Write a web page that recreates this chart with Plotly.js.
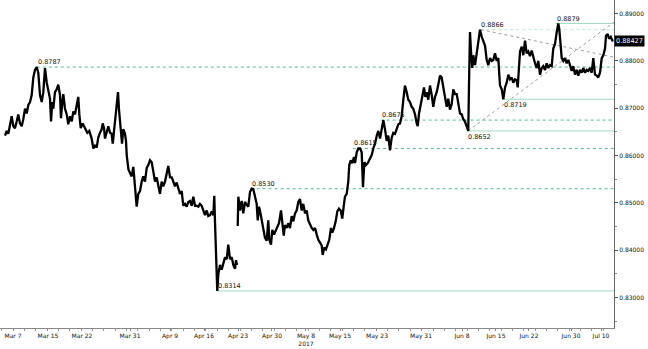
<!DOCTYPE html>
<html>
<head>
<meta charset="utf-8">
<script src="https://cdn.plot.ly/plotly-3.0.1.min.js"></script>
<style>html,body{margin:0;padding:0;background:#fff;}#chart{width:648px;height:349px;}</style>
</head>
<body>
<div id="chart"></div>
<script>
// x unit: trading days since Mar 7, 2017
const days = [
-1.21,-0.95,-0.71,-0.45,-0.20,0.05,0.30,0.56,0.80,1.06,
1.32,1.56,1.82,2.08,2.32,2.58,2.83,3.08,3.33,3.59,
3.83,4.09,4.35,4.59,4.85,5.11,5.35,5.61,5.76,5.95,
6.11,6.36,6.62,6.86,7.12,7.27,7.47,7.62,7.88,8.14,
8.38,8.64,8.89,9.14,9.39,9.65,9.89,10.05,10.26,10.56,
10.91,11.26,11.56,11.92,12.17,12.42,12.68,12.92,13.18,13.44,
13.59,13.79,13.94,14.20,14.44,14.70,14.95,15.11,15.30,15.50,
15.71,15.91,16.06,16.21,16.36,16.52,16.71,16.97,17.12,17.23,
17.50,17.98,18.23,18.48,18.74,18.98,19.24,19.50,19.74,20.00,
20.26,20.50,20.76,21.02,21.26,21.52,21.77,22.02,22.27,22.53,
22.77,23.03,23.29,23.53,23.79,24.05,24.29,24.55,24.80,25.05,
25.30,25.56,25.80,26.06,26.32,26.56,26.82,27.08,27.32,27.58,
27.83,28.08,28.33,28.59,28.83,29.09,29.35,29.59,29.85,30.11,
30.35,30.50,30.61,30.71,30.86,30.95,31.11,31.36,31.62,31.86,
32.12,32.38,32.62,32.88,33.14,33.38,33.64,33.79,33.94,34.00,
34.05,34.14,34.39,34.65,34.89,35.15,35.41,35.65,35.91,36.17,
36.41,36.67,36.92,37.08,37.27,37.42,37.68,37.92,38.18,38.44,
38.68,38.83,39.09,39.29,39.55,39.80,40.05,40.30,40.61,40.80,
41.02,41.21,41.47,41.71,41.97,42.23,42.47,42.73,42.98,43.23,
43.48,43.74,43.98,44.24,44.50,44.74,45.00,45.26,45.50,45.76,
46.02,46.26,46.52,46.77,46.92,47.17,47.42,47.68,47.92,48.18,
48.38,48.64,48.89,49.14,49.39,49.65,49.89,50.15,50.30,50.56,
50.80,50.95,51.17,51.41,51.67,51.82,52.08,52.32,52.58,52.83,
53.03,53.23,53.48,53.74,53.98,54.35,54.59,54.85,55.11,55.35,
55.61,55.86,56.11,56.36,56.62,56.86,57.12,57.38,57.62,57.88,
58.14,58.38,58.64,58.89,59.14,59.39,59.65,59.89,60.15,60.41,
60.65,60.91,61.17,61.32,61.52,61.77,62.02,62.27,62.47,62.68,
62.92,63.18,63.44,63.68,63.94,64.20,64.44,64.70,64.95,65.20,
65.45,65.71,65.95,66.21,66.47,66.71,66.97,67.23,67.47,67.73,
67.98,68.23,68.48,68.74,68.98,69.09,69.17,69.24,69.39,69.59,
69.74,70.00,70.26,70.50,70.76,71.02,71.26,71.52,71.77,72.02,
72.27,72.53,72.77,73.03,73.29,73.53,73.68,73.79,74.05,74.29,
74.55,74.80,75.05,75.30,75.56,75.80,76.06,76.32,76.47,76.67,
76.82,77.08,77.32,77.58,77.83,78.08,78.33,78.59,78.83,79.09,
79.35,79.59,79.85,80.11,80.35,80.61,80.86,81.11,81.36,81.62,
81.86,82.12,82.38,82.62,82.77,82.98,83.14,83.38,83.64,83.89,
84.14,84.39,84.65,84.89,85.15,85.41,85.65,85.91,86.17,86.41,
86.67,86.92,87.17,87.42,87.68,87.92,88.18,88.44,88.68,88.94,
89.20,89.44,89.70,89.85,90.11,90.30,90.56,90.80,90.98
];
const prices = [
0.8642,0.8652,0.8646,0.8668,0.8683,0.8662,0.8658,0.8672,0.8687,0.8668,
0.8662,0.8677,0.8699,0.8689,0.8707,0.8713,0.8728,0.8765,0.8781,0.8787,
0.8775,0.8728,0.8713,0.8734,0.8785,0.8754,0.8734,0.8720,0.8672,0.8713,
0.8699,0.8734,0.8740,0.8750,0.8728,0.8679,0.8713,0.8730,0.8699,0.8687,
0.8666,0.8683,0.8672,0.8693,0.8687,0.8703,0.8724,0.8687,0.8658,0.8668,
0.8656,0.8648,0.8652,0.8636,0.8615,0.8621,0.8617,0.8638,0.8648,0.8656,
0.8668,0.8658,0.8636,0.8652,0.8662,0.8648,0.8646,0.8625,0.8652,0.8679,
0.8718,0.8734,0.8697,0.8672,0.8658,0.8625,0.8656,0.8646,0.8631,0.8601,
0.8570,0.8556,0.8576,0.8525,0.8492,0.8519,0.8525,0.8545,0.8556,0.8545,
0.8574,0.8580,0.8590,0.8586,0.8566,0.8545,0.8554,0.8539,0.8519,0.8545,
0.8535,0.8545,0.8564,0.8578,0.8554,0.8554,0.8545,0.8535,0.8543,0.8533,
0.8519,0.8525,0.8494,0.8498,0.8492,0.8502,0.8504,0.8494,0.8513,0.8494,
0.8494,0.8492,0.8498,0.8494,0.8482,0.8474,0.8484,0.8472,0.8474,0.8482,
0.8474,0.8515,0.8457,0.8416,0.8381,0.8314,0.8349,0.8369,0.8359,0.8375,
0.8385,0.8381,0.8412,0.8381,0.8385,0.8369,0.8361,0.8379,0.8369,null,
0.8451,0.8513,0.8484,0.8504,0.8478,0.8502,0.8496,0.8492,0.8523,0.8530,
0.8529,0.8513,0.8498,0.8463,0.8492,0.8484,0.8463,0.8441,0.8426,0.8420,
0.8463,0.8422,0.8412,0.8443,0.8433,0.8441,0.8451,0.8457,0.8484,0.8453,
0.8431,0.8453,0.8447,0.8457,0.8447,0.8472,0.8461,0.8478,0.8484,0.8502,
0.8508,0.8484,0.8498,0.8478,0.8484,0.8463,0.8453,0.8447,0.8443,0.8447,
0.8433,0.8422,0.8416,0.8410,0.8390,0.8406,0.8402,0.8412,0.8422,0.8447,
0.8437,0.8447,0.8461,0.8482,0.8488,0.8484,0.8467,0.8498,0.8513,0.8519,
0.8545,0.8580,0.8590,0.8584,0.8597,0.8584,0.8607,0.8615,0.8615,0.8607,
0.8533,0.8586,0.8580,0.8584,0.8591,0.8601,0.8615,0.8625,0.8642,0.8652,
0.8636,0.8656,0.8675,0.8656,0.8631,0.8642,0.8611,0.8638,0.8648,0.8646,
0.8656,0.8666,0.8668,0.8683,0.8718,0.8748,0.8734,0.8718,0.8713,0.8703,
0.8699,0.8687,0.8668,0.8662,0.8689,0.8709,0.8724,0.8744,0.8724,0.8734,
0.8718,0.8748,0.8728,0.8703,0.8724,0.8734,0.8750,0.8769,0.8765,0.8748,
0.8724,0.8703,0.8720,0.8697,0.8709,0.8740,0.8730,0.8730,0.8707,0.8689,
0.8687,0.8677,0.8672,0.8662,0.8652,0.8750,0.8806,0.8861,0.8820,0.8785,
0.8812,0.8791,0.8816,0.8836,0.8866,0.8851,0.8843,0.8832,0.8802,0.8791,
0.8806,0.8800,0.8802,0.8816,0.8800,0.8806,0.8771,0.8748,0.8740,0.8719,
0.8744,0.8754,0.8771,0.8761,0.8765,0.8754,0.8761,0.8759,0.8744,0.8779,
0.8820,0.8830,0.8812,0.8843,0.8816,0.8820,0.8810,0.8822,0.8806,0.8795,
0.8785,0.8800,0.8771,0.8785,0.8789,0.8781,0.8795,0.8785,0.8791,0.8789,
0.8826,0.8836,0.8861,0.8879,0.8867,0.8832,0.8806,0.8800,0.8806,0.8795,
0.8802,0.8791,0.8779,0.8789,0.8771,0.8781,0.8769,0.8781,0.8775,0.8785,
0.8775,0.8781,0.8779,0.8785,0.8775,0.8806,0.8771,0.8769,0.8765,0.8775,
0.8806,0.8812,0.8826,0.8853,0.8857,0.8847,0.8851,0.8843,0.88427
];
const tickDays = [0,5.3,10.45,17.73,23.79,28.94,34.09,39.24,44.39,49.55,55.15,61.82,68.03,73.18,78.18,84.55,89.09];
const tickLabels = ['Mar 7','Mar 15','Mar 22','Mar 31','Apr 9','Apr 16','Apr 23','Apr 30','May 8<br>2017','May 15','May 23','May 31','Jun 8','Jun 15','Jun 22','Jun 30','Jul 10'];

// marked levels
const levelValues = [0.8866, 0.8879, 0.8787, 0.8719, 0.8675, 0.8652, 0.8615, 0.8530, 0.8314];
const levelLabels = ['0.8866','0.8879','0.8787','0.8719','0.8675','0.8652','0.8615','0.8530','0.8314'];
const levelStartDays = [70.8, 82.2, 3.6, 74.2, 55.7, 68.8, 51.5, 36.0, 30.9];
const levelKinds = ['pale','solid','dash','solid','dash','solid','dash','dash','solid'];
const labelBelow = [false,false,false,true,false,true,false,false,false];

// trend lines
const trendStartDays = [70.9, 68.95];
const trendStartValues = [0.8866, 0.8652];
const trendEndValues = [0.8808, 0.8882];

const lastPrice = 0.88427;

const xMin = -1.97, xMax = 91.06;
const yMin = 0.82357, yMax = 0.89287;

const styleOf = {
  pale:  {color:'#bfe8d6', width:1, dash:'3px,3px'},
  solid: {color:'#a3dcc5', width:1, dash:'solid'},
  dash:  {color:'#4fbf95', width:1, dash:'3px,3px'}
};

const shapes = [];
const annotations = [];
levelValues.forEach((v,i)=>{
  shapes.push({type:'line', xref:'x', yref:'y', x0:levelStartDays[i], x1:xMax, y0:v, y1:v,
    line:styleOf[levelKinds[i]], layer:'below'});
  annotations.push({x:levelStartDays[i], y:v, xref:'x', yref:'y', text:levelLabels[i], showarrow:false,
    xanchor:'left', yanchor: labelBelow[i] ? 'top' : 'bottom', borderpad:0,
    yshift: labelBelow[i] ? -1 : 0,
    font:{family:'DejaVu Sans', size:6.5, color:'#111'}});
});
trendStartDays.forEach((d,i)=>{
  shapes.push({type:'line', xref:'x', yref:'y', x0:d, x1:xMax, y0:trendStartValues[i], y1:trendEndValues[i],
    line:{color:'#a0a0a0', width:1, dash:'3px,3px'}, layer:'below'});
});
annotations.push({x:1, xref:'paper', y:lastPrice, yref:'y', text:lastPrice.toFixed(5), showarrow:false,
  xanchor:'left', yanchor:'middle', bgcolor:'#000', borderpad:1,
  font:{family:'DejaVu Sans', size:6.5, color:'#fff'}});

const trace = {x:days, y:prices, type:'scatter', mode:'lines', connectgaps:false,
  line:{color:'#000', width:2.3}, hoverinfo:'skip'};

const layout = {
  width:648, height:349,
  margin:{l:0, r:34, t:0, b:21},
  paper_bgcolor:'#fff', plot_bgcolor:'#fff',
  showlegend:false,
  xaxis:{range:[xMin,xMax], tickmode:'array', tickvals:tickDays, ticktext:tickLabels,
    showgrid:false, zeroline:false, showline:true, linecolor:'#888', linewidth:1,
    ticks:'outside', ticklen:2, tickcolor:'#888',
    minor:{tickmode:'linear', tick0:0, dtick:1.72, ticklen:2, tickcolor:'#999', ticks:'outside'},
    tickfont:{family:'DejaVu Sans', size:6, color:'#111'}},
  yaxis:{range:[yMin,yMax], side:'right', tickmode:'linear', tick0:0.83, dtick:0.01, tickformat:'.5f',
    showgrid:false, zeroline:false, showline:true, linecolor:'#666', linewidth:1,
    ticks:'outside', ticklen:3, tickcolor:'#555',
    minor:{dtick:0.005, ticklen:2, tickcolor:'#888', ticks:'outside'},
    tickfont:{family:'DejaVu Sans', size:6, color:'#111'}},
  shapes:shapes,
  annotations:annotations
};
Plotly.newPlot('chart',[trace],layout,{staticPlot:true, displayModeBar:false});
</script>
</body>
</html>
